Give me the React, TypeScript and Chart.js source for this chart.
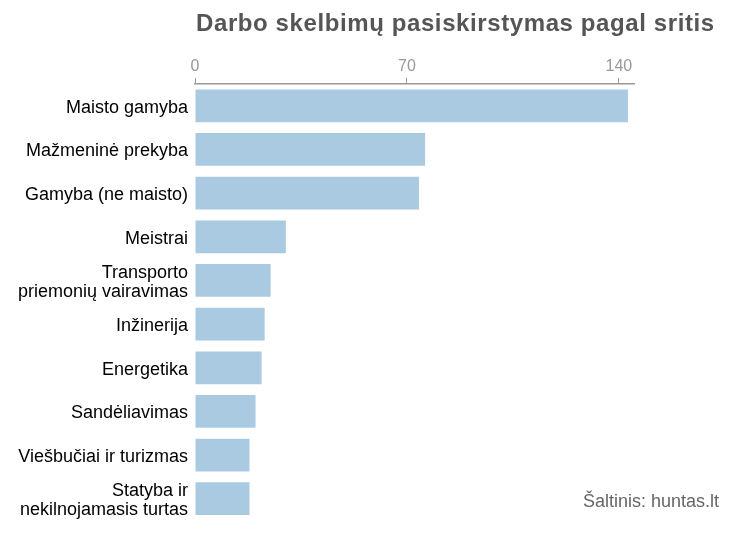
import React, { useEffect, useRef } from 'react';
import { Chart, registerables } from 'chart.js';

Chart.register(...registerables);

const TITLE = 'Darbo skelbimų pasiskirstymas pagal sritis';
const SOURCE = 'Šaltinis: huntas.lt';

const categories: (string | string[])[] = [
  'Maisto gamyba',
  'Mažmeninė prekyba',
  'Gamyba (ne maisto)',
  'Meistrai',
  ['Transporto', 'priemonių vairavimas'],
  'Inžinerija',
  'Energetika',
  'Sandėliavimas',
  'Viešbučiai ir turizmas',
  ['Statyba ir', 'nekilnojamasis turtas'],
];
const jobCounts = [143, 76, 74, 30, 25, 23, 22, 20, 18, 18];
const tickValues = [0, 70, 140];

const FONT = '"Liberation Sans", Arial, sans-serif';

// title sits flush with the plot's left edge, source note bottom right
const textPlugin = {
  id: 'titleAndSource',
  afterDraw(chart: Chart) {
    const { ctx, chartArea } = chart;
    ctx.save();
    ctx.font = `bold 24px ${FONT}`;
    (ctx as any).letterSpacing = '0.6px';
    ctx.fillStyle = '#555555';
    ctx.textAlign = 'left';
    ctx.textBaseline = 'alphabetic';
    ctx.fillText(TITLE, chartArea.left + 1, 31);
    (ctx as any).letterSpacing = '0px';

    ctx.font = `18px ${FONT}`;
    ctx.fillStyle = '#666666';
    ctx.textAlign = 'right';
    ctx.fillText(SOURCE, 719, 507);
    ctx.restore();
  },
};

const JobsChart: React.FC = () => {
  const canvasRef = useRef<HTMLCanvasElement>(null);
  const chartRef = useRef<Chart | null>(null);

  useEffect(() => {
    if (!canvasRef.current) return;
    if (chartRef.current) chartRef.current.destroy();

    chartRef.current = new Chart(canvasRef.current, {
      type: 'bar',
      data: {
        labels: categories,
        datasets: [
          {
            data: jobCounts,
            backgroundColor: '#aacae1',
            borderWidth: 0,
            barPercentage: 0.75,
            categoryPercentage: 1,
          },
        ],
      },
      options: {
        indexAxis: 'y',
        animation: false,
        responsive: true,
        maintainAspectRatio: false,
        layout: { padding: { top: 50, right: 97, bottom: 13, left: 0 } },
        plugins: {
          legend: { display: false },
          tooltip: { enabled: false },
          title: { display: false },
        },
        scales: {
          x: {
            position: 'top',
            min: 0,
            max: 145,
            afterBuildTicks: (scale) => {
              scale.ticks = tickValues.map((v) => ({ value: v }));
            },
            afterFit: (scale) => {
              scale.height = 34;
            },
            border: { display: true, color: '#999999', width: 1.5 },
            grid: {
              drawOnChartArea: false,
              drawTicks: true,
              tickLength: 6,
              color: '#999999',
              lineWidth: 1,
            },
            ticks: {
              color: '#999999',
              font: { family: FONT, size: 16 },
              padding: 2,
              maxRotation: 0,
            },
          },
          y: {
            afterFit: (scale) => {
              scale.width = 195;
            },
            border: { display: false },
            grid: { display: false, drawTicks: false },
            ticks: {
              color: '#000000',
              font: { family: FONT, size: 18, lineHeight: 1.05 },
              padding: 7,
              labelOffset: 2,
            },
          },
        },
      },
      plugins: [textPlugin],
    });

    return () => {
      if (chartRef.current) {
        chartRef.current.destroy();
        chartRef.current = null;
      }
    };
  }, []);

  return (
    <div style={{ position: 'fixed', left: 0, top: 0, width: 731, height: 537, background: '#fff' }}>
      <canvas ref={canvasRef}></canvas>
    </div>
  );
};

export default function App() {
  return <JobsChart />;
}
